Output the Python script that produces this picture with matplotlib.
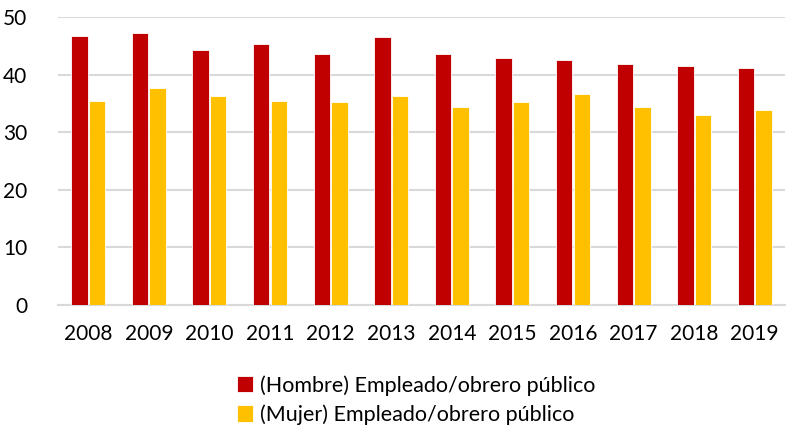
import numpy as np
import matplotlib.pyplot as plt

years = ['2008', '2009', '2010', '2011', '2012', '2013',
         '2014', '2015', '2016', '2017', '2018', '2019']
hombre = [46.7, 47.2, 44.3, 45.3, 43.6, 46.6, 43.5, 42.9, 42.5, 41.9, 41.5, 41.2]
mujer = [35.4, 37.6, 36.2, 35.5, 35.3, 36.2, 34.3, 35.2, 36.6, 34.4, 33.0, 33.9]

plt.rcParams['font.family'] = ['Lato', 'DejaVu Sans']

fig = plt.figure(figsize=(7.92, 4.32), dpi=100)
ax = fig.add_axes([58 / 792, 1 - 305 / 432, 727 / 792, 288 / 432])

x = np.arange(len(years))
w = 0.27
ax.bar(x - w / 2 - 0.01, hombre, w, color='#c00000', edgecolor='white', linewidth=0.6,
       label='(Hombre) Empleado/obrero público', zorder=3)
ax.bar(x + w / 2 + 0.01, mujer, w, color='#ffc000', edgecolor='white', linewidth=0.6,
       label='(Mujer) Empleado/obrero público', zorder=3)

ax.set_xlim(-0.5, len(years) - 0.5)
ax.set_ylim(0, 50)
ax.set_yticks([0, 10, 20, 30, 40, 50])
ax.set_xticks(x)
ax.set_xticklabels(years)
ax.tick_params(axis='both', length=0, labelsize=15, colors='#000000')
ax.tick_params(axis='x', pad=14)
ax.tick_params(axis='y', pad=22)
ax.grid(axis='y', color='#d9d9d9', linewidth=1.5, zorder=0)
for s in ['top', 'right', 'left']:
    ax.spines[s].set_visible(False)
ax.spines['bottom'].set_color('#d9d9d9')
ax.spines['bottom'].set_linewidth(1.5)

fig.legend(loc='center', bbox_to_anchor=(416 / 792, 1 - 400 / 432), ncol=1,
           frameon=False, fontsize=15.5, handlelength=0.75, handleheight=0.8,
           handletextpad=0.3, labelspacing=0.4)

fig.savefig('out.png', dpi=100)
